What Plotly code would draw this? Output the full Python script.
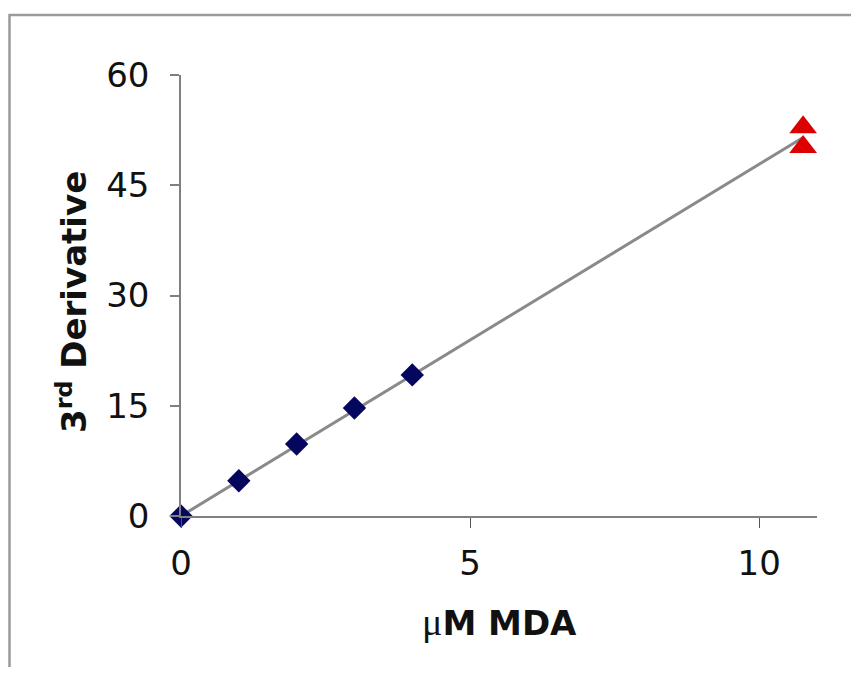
import plotly.graph_objects as go

# Data
std_x = [0, 1, 2, 3, 4]
std_y = [0, 4.8, 9.8, 14.7, 19.2]
sample_x = [10.76, 10.76]
sample_y = [52.9, 50.2]
trend_x = [0, 10.76]
trend_y = [0, 51.5]

x_ticks = [0, 5, 10]
y_ticks = [0, 15, 30, 45, 60]

OFF = 8  # page body margin
W, H = 859 - 2 * OFF, 675 - 2 * OFF
L, T = 181 - OFF, 75 - OFF
R = W - (817 - OFF)
B = H - (516 - OFF)
pw, ph = W - L - R, H - T - B

def px_to_paper_x(px):
    return (px - OFF - L) / pw

def px_to_paper_y(py):
    return (H - B - (py - OFF)) / ph

fig = go.Figure()
fig.add_trace(go.Scatter(x=trend_x, y=trend_y, mode="lines",
                         line=dict(color="#8a8a8a", width=3), showlegend=False))
fig.add_trace(go.Scatter(x=std_x, y=std_y, mode="markers",
                         marker=dict(symbol="diamond", size=18, color="#05065e"),
                         showlegend=False, cliponaxis=False))
fig.add_trace(go.Scatter(x=sample_x, y=sample_y, mode="markers",
                         marker=dict(symbol="triangle-up", size=24, color="#dd0000"),
                         showlegend=False, cliponaxis=False))

tickfont = dict(family="DejaVu Sans", size=34, color="#111111")
fig.update_xaxes(range=[0, 11], tickvals=x_ticks, showgrid=False, zeroline=False,
                 showline=True, linecolor="#808080", linewidth=1.5,
                 ticks="outside", ticklen=10, tickcolor="#555555", tickwidth=1,
                 tickfont=tickfont, ticklabelstandoff=6)
fig.update_yaxes(range=[0, 60], tickvals=y_ticks, showgrid=False, zeroline=False,
                 showline=True, linecolor="#808080", linewidth=1.5,
                 ticks="outside", ticklen=9, tickcolor="#808080", tickwidth=1.5,
                 tickfont=tickfont, ticklabelstandoff=14)

titlefont = dict(family="DejaVu Sans", size=34, color="#111111")
fig.add_annotation(text="<span style='font-family:Liberation Serif;font-size:38px'>μ</span><b>M MDA</b>",
                   x=px_to_paper_x(499), y=px_to_paper_y(622), xref="paper", yref="paper",
                   showarrow=False, font=titlefont, xanchor="center", yanchor="middle")
fig.add_annotation(text="<b>3<sup>rd</sup> Derivative</b>",
                   x=px_to_paper_x(72), y=px_to_paper_y(302), xref="paper", yref="paper",
                   showarrow=False, font=titlefont, textangle=-90,
                   xanchor="center", yanchor="middle")

fig.add_shape(type="rect", xref="paper", yref="paper",
              x0=px_to_paper_x(9.5), x1=px_to_paper_x(900),
              y0=px_to_paper_y(720), y1=px_to_paper_y(15),
              line=dict(color="#9a9a9a", width=2.5), fillcolor="rgba(0,0,0,0)", layer="below")

fig.update_layout(width=W, height=H, margin=dict(l=L, r=R, t=T, b=B),
                  paper_bgcolor="#ffffff", plot_bgcolor="#ffffff")
fig.write_html("out.html")
